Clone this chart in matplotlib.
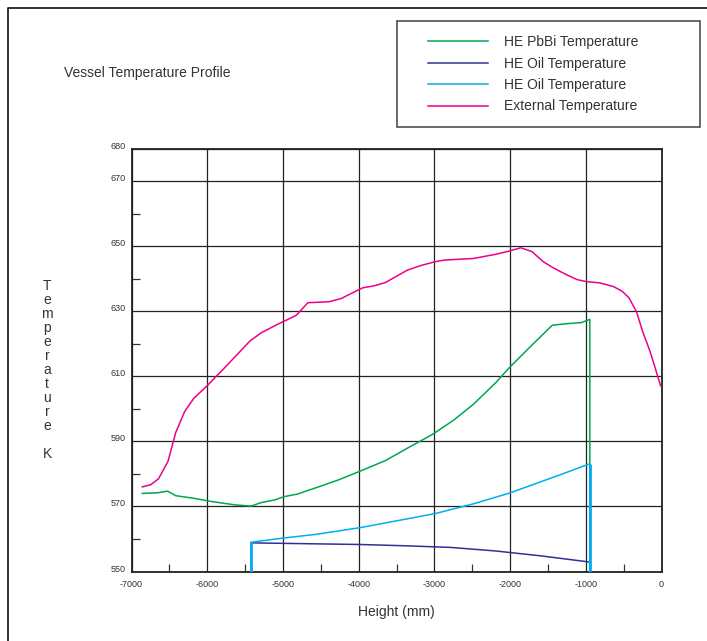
import matplotlib
matplotlib.use("Agg")
import matplotlib.pyplot as plt
import matplotlib.transforms as mtransforms
from matplotlib.lines import Line2D
from matplotlib.legend_handler import HandlerLine2D

plt.rcParams['font.family'] = ['Liberation Sans', 'DejaVu Sans']
plt.rcParams['axes.unicode_minus'] = False

# data (height in mm, temperature in K)
ext_x = [-6857, -6744, -6643, -6517, -6416, -6297, -6178, -6000, -5791, -5612,
         -5433, -5284, -5076, -4826, -4671, -4391, -4230, -4033, -3944, -3795,
         -3646, -3497, -3348, -3169, -2990, -2872, -2484, -2186, -2008, -1859,
         -1710, -1561, -1442, -1263, -1114, -995, -816, -637, -518, -429,
         -328, -250, -149, -12]
ext_y = [576.0, 576.7, 578.5, 583.9, 592.7, 599.2, 603.2, 607.1, 612.1, 616.5,
         620.9, 623.4, 625.9, 628.7, 632.6, 632.9, 633.9, 636.2, 637.2, 637.8,
         638.8, 640.8, 642.7, 644.1, 645.2, 645.7, 646.2, 647.5, 648.5, 649.5,
         648.3, 645.2, 643.5, 641.3, 639.7, 639.1, 638.7, 637.6, 636.1, 634.1,
         629.7, 623.8, 617.5, 607.1]

pbbi_x = [-6857, -6654, -6523, -6416, -6178, -5940, -5642, -5421, -5284, -5106,
          -4986, -4808, -4569, -4272, -3974, -3646, -3348, -3020, -2752, -2484,
          -2186, -2008, -1710, -1442, -1233, -1055, -947, -947]
pbbi_y = [574.0, 574.2, 574.7, 573.3, 572.5, 571.5, 570.5, 570.1, 571.2, 572.0,
          573.0, 573.8, 575.7, 578.1, 580.9, 584.1, 588.0, 592.2, 596.4, 601.4,
          608.1, 612.7, 619.6, 625.7, 626.2, 626.5, 627.5, 550.0]

oil1_x = [-5421, -4569, -3974, -3378, -2782, -2186, -1591, -947]
oil1_y = [558.8, 558.5, 558.3, 557.9, 557.4, 556.3, 554.8, 552.9]

oil2_x = [-5421, -5421, -4986, -4569, -3974, -3378, -2990, -2484, -2008, -1710,
          -1293, -1055, -947, -947]
oil2_y = [550.0, 559.0, 560.3, 561.4, 563.5, 566.1, 567.8, 570.8, 574.1, 576.6,
          580.1, 582.2, 583.1, 550.0]

labels = ['HE PbBi Temperature', 'HE Oil Temperature', 'HE Oil Temperature',
          'External Temperature']
colors = ['#00a651', '#2e3192', '#00aeef', '#ec008c']

y_major = [550, 570, 590, 610, 630, 650, 670, 680]
y_minor = [560, 580, 600, 620, 640, 660]
x_major = [-7000, -6000, -5000, -4000, -3000, -2000, -1000, 0]
x_minor = [-6500, -5500, -4500, -3500, -2500, -1500, -500]

W, H = 707, 641
fig = plt.figure(figsize=(W / 100, H / 100), dpi=100)
ax = fig.add_axes([131.5 / W, 1 - 571.5 / H, 530 / W, 423 / H])

l1, = ax.plot(pbbi_x, pbbi_y, color=colors[0], lw=1.1, zorder=3)
l2, = ax.plot(oil1_x, oil1_y, color=colors[1], lw=1.1, zorder=3)
l3, = ax.plot(oil2_x, oil2_y, color=colors[2], lw=1.1, zorder=4)
# the two vertical cyan ends look heavier
ax.vlines([oil2_x[0], oil2_x[-1]], 550, [oil2_y[1], oil2_y[-2]],
          color=colors[2], lw=2.0, zorder=4)
l4, = ax.plot(ext_x, ext_y, color=colors[3], lw=1.1, zorder=3)

ax.set_xlim(-7000, 0)
ax.set_ylim(550, 680)
ax.set_xticks(x_major)
ax.set_xticks(x_minor, minor=True)
ax.set_yticks(y_major)
ax.set_yticks(y_minor, minor=True)
ax.tick_params(which='major', length=0, labelsize=6.5, labelcolor='#333333')
ax.tick_params(axis='x', which='major', pad=6)
ax.tick_params(axis='y', which='major', pad=4)
ax.tick_params(which='minor', direction='in', length=6, width=0.9, color='#333333')
ax.grid(True, which='major', color='#222222', lw=0.9)
for s in ax.spines.values():
    s.set_linewidth(1.3)
    s.set_color('#222222')

off = mtransforms.ScaledTranslation(0, 2.5 / 72, fig.dpi_scale_trans)
for t in ax.get_yticklabels():
    t.set_transform(t.get_transform() + off)

ax.set_xlabel('Height (mm)', fontsize=10, color='#333333', labelpad=11.5)
fig.text(47 / W, 1 - 370 / H, '\n'.join('Temperature') + '\n\nK', fontsize=10,
         color='#333333', ha='center', va='center', linespacing=1.0)

fig.text(64.5 / W, 1 - 73.5 / H, 'Vessel Temperature Profile', fontsize=10,
         color='#333333', ha='left', va='center')

# legend lines sit inset from the frame, so pad them inside the handle box
hmap = {Line2D: HandlerLine2D(numpoints=2, marker_pad=1.2)}
leg = fig.legend([l1, l2, l3, l4], labels, loc='upper left',
                 bbox_to_anchor=(397 / W, 1 - 21.5 / H, 303 / W, 0.0001),
                 mode='expand', fontsize=10, frameon=True, fancybox=False,
                 edgecolor='#222222', handlelength=6.75, handletextpad=-0.05,
                 borderpad=1.0, labelspacing=0.53, borderaxespad=0,
                 handler_map=hmap)
leg.get_frame().set_linewidth(1.2)
for t in leg.get_texts():
    t.set_color('#333333')

# outer frame (cut off on the right and bottom)
fig.add_artist(Line2D([8 / W, 8 / W, 1], [0, 1 - 7.5 / H, 1 - 7.5 / H],
                      transform=fig.transFigure, color='#222222', lw=1.3))

fig.savefig('out.png', dpi=100)
